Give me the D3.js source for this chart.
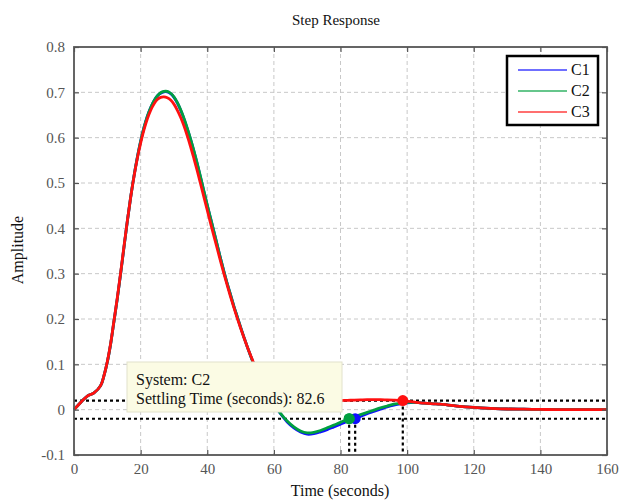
<!DOCTYPE html>
<html>
<head>
<meta charset="utf-8">
<script src="https://cdn.jsdelivr.net/npm/d3@7"></script>
<style>
  body { margin: 0; background: #fff; }
  svg { display: block; }
  text { font-family: "Liberation Serif", "DejaVu Serif", serif; }
</style>
</head>
<body>
<svg id="chart" width="620" height="502"></svg>
<script>
// ---------------- data ----------------
const seriesNames = ["C1", "C2", "C3"];
const seriesColors = ["#1010ff", "#00a040", "#ff1010"];

const time = [0,2,4,6,8,9,10,11,12,13,14,15,16,17,18,19,20,21,22,23,24,25,26,27,28,29,30,31,32,33,34,35,36,37,38,39,40,41,42,43,44,45,46,47,48,49,50,51,52,53,54,55,56,57,58,59,60,62,64,66,68,70,72,74,76,78,80,82,84,86,88,90,92,94,96,98,100,102,104,106,108,110,115,120,125,130,135,140,145,150,155,160];

const c1 = [0,0.016,0.030,0.037,0.053,0.075,0.105,0.145,0.195,0.245,0.300,0.358,0.415,0.468,0.515,0.556,0.592,0.622,0.647,0.666,0.681,0.692,0.698,0.701,0.701,0.697,0.689,0.677,0.661,0.642,0.620,0.596,0.570,0.542,0.512,0.481,0.451,0.422,0.393,0.363,0.333,0.305,0.278,0.253,0.228,0.205,0.182,0.160,0.139,0.119,0.100,0.083,0.067,0.052,0.038,0.025,0.013,-0.009,-0.027,-0.040,-0.049,-0.054,-0.053,-0.049,-0.044,-0.038,-0.032,-0.026,-0.021,-0.015,-0.009,-0.004,0.001,0.006,0.010,0.013,0.015,0.016,0.015,0.014,0.013,0.012,0.008,0.005,0.003,0.0015,0.001,0.0005,0,0,0,0];

const c2 = [0,0.016,0.030,0.037,0.053,0.075,0.105,0.145,0.195,0.245,0.300,0.358,0.415,0.468,0.515,0.556,0.592,0.622,0.647,0.666,0.681,0.692,0.699,0.702,0.702,0.698,0.690,0.678,0.662,0.643,0.621,0.597,0.571,0.543,0.513,0.482,0.452,0.422,0.393,0.363,0.333,0.305,0.278,0.253,0.228,0.205,0.182,0.160,0.139,0.119,0.100,0.083,0.067,0.052,0.038,0.025,0.013,-0.008,-0.025,-0.038,-0.047,-0.051,-0.050,-0.046,-0.040,-0.034,-0.028,-0.021,-0.016,-0.011,-0.006,-0.001,0.004,0.008,0.012,0.014,0.016,0.016,0.015,0.014,0.013,0.012,0.008,0.005,0.003,0.0015,0.001,0.0005,0,0,0,0];

const c3 = [0,0.016,0.030,0.037,0.053,0.075,0.106,0.146,0.196,0.247,0.302,0.360,0.416,0.468,0.514,0.554,0.588,0.617,0.641,0.660,0.674,0.684,0.689,0.690,0.688,0.683,0.674,0.661,0.645,0.626,0.604,0.580,0.554,0.527,0.498,0.469,0.440,0.411,0.383,0.355,0.327,0.300,0.274,0.249,0.225,0.202,0.180,0.159,0.139,0.120,0.102,0.085,0.069,0.055,0.043,0.033,0.026,0.014,0.006,0.002,0.002,0.004,0.007,0.011,0.015,0.018,0.020,0.0205,0.021,0.0215,0.022,0.022,0.022,0.0215,0.021,0.0203,0.019,0.017,0.015,0.014,0.013,0.012,0.008,0.005,0.003,0.0015,0.001,0.0005,0,0,0,0];

const seriesValues = [c1, c2, c3];

// settling-time markers
const settleTimes = [84.4, 82.6, 98.7];
const settleValues = [-0.02, -0.02, 0.02];
const bandLevels = [0.02, -0.02];

const xTicks = [0,20,40,60,80,100,120,140,160];
const yTicks = [-0.1,0,0.1,0.2,0.3,0.4,0.5,0.6,0.7,0.8];
const yTickLabels = ["-0.1","0","0.1","0.2","0.3","0.4","0.5","0.6","0.7","0.8"];

const titleText = "Step Response";
const xLabelText = "Time (seconds)";
const yLabelText = "Amplitude";
const tipLines = ["System: C2", "Settling Time (seconds): 82.6"];

// ---------------- layout ----------------
const L = 74, R = 607, T = 47, B = 455;
const svg = d3.select("#chart");
const x = d3.scaleLinear().domain([0, 160]).range([L, R]);
const y = d3.scaleLinear().domain([-0.1, 0.8]).range([B, T]);

// grid
const grid = svg.append("g").attr("stroke", "#c8c8c8").attr("stroke-width", 1)
  .attr("stroke-dasharray", "4,3");
xTicks.slice(1, -1).forEach(v => {
  grid.append("line").attr("x1", x(v)).attr("x2", x(v)).attr("y1", T).attr("y2", B);
});
yTicks.slice(1, -1).forEach(v => {
  grid.append("line").attr("x1", L).attr("x2", R).attr("y1", y(v)).attr("y2", y(v));
});

// settling band lines
const dots = svg.append("g").attr("stroke", "#000").attr("stroke-width", 2.2)
  .attr("stroke-dasharray", "3,3").attr("fill", "none");
bandLevels.forEach(v => {
  dots.append("line").attr("x1", x(0)).attr("x2", x(160)).attr("y1", y(v)).attr("y2", y(v));
});
settleTimes.forEach((t, i) => {
  dots.append("line").attr("x1", x(t)).attr("x2", x(t)).attr("y1", y(settleValues[i])).attr("y2", B);
});

// curves
const line = d3.line().x(d => x(d[0])).y(d => y(d[1])).curve(d3.curveCatmullRom.alpha(0.5));
seriesValues.forEach((vals, i) => {
  svg.append("path")
    .datum(time.map((t, j) => [t, vals[j]]))
    .attr("fill", "none")
    .attr("stroke", seriesColors[i])
    .attr("stroke-width", 2.8)
    .attr("stroke-linejoin", "round")
    .attr("d", line);
});

// markers
settleTimes.forEach((t, i) => {
  svg.append("circle").attr("cx", x(t)).attr("cy", y(settleValues[i])).attr("r", 5.5)
    .attr("fill", seriesColors[i]);
});
svg.append("circle").attr("cx", x(settleTimes[1])).attr("cy", y(settleValues[1])).attr("r", 5.5)
  .attr("fill", seriesColors[1]);

// data tip
const tip = svg.append("g");
tip.append("rect").attr("x", 127).attr("y", 362).attr("width", 215).attr("height", 50)
  .attr("fill", "#fbfbe4").attr("stroke", "#e2e2cc").attr("stroke-width", 1);
tipLines.forEach((s, i) => {
  tip.append("text").attr("x", 136).attr("y", 385 + i * 19).attr("font-size", 16)
    .attr("fill", "#111").text(s);
});

// axes (ticks inward)
function styleAxis(g) {
  g.select(".domain").remove();
  g.selectAll(".tick line").attr("stroke", "#555").attr("stroke-width", 1.2);
  g.selectAll(".tick text").attr("fill", "#555").attr("font-size", 15)
    .attr("font-family", "Liberation Serif, serif");
}
svg.append("g").attr("transform", `translate(0,${B})`)
  .call(d3.axisBottom(x).tickValues(xTicks).tickSize(-5).tickSizeOuter(0).tickPadding(8).tickFormat(d3.format("d")))
  .call(styleAxis);
svg.append("g").attr("transform", `translate(0,${T})`)
  .call(d3.axisTop(x).tickValues(xTicks).tickSize(-5).tickSizeOuter(0).tickFormat(""))
  .call(styleAxis);
svg.append("g").attr("transform", `translate(${L},0)`)
  .call(d3.axisLeft(y).tickValues(yTicks).tickSize(-5).tickSizeOuter(0).tickPadding(9)
    .tickFormat((d, i) => yTickLabels[i]))
  .call(styleAxis);
svg.append("g").attr("transform", `translate(${R},0)`)
  .call(d3.axisRight(y).tickValues(yTicks).tickSize(-5).tickSizeOuter(0).tickFormat(""))
  .call(styleAxis);

// frame
svg.append("rect").attr("x", L).attr("y", T).attr("width", R - L).attr("height", B - T)
  .attr("fill", "none").attr("stroke", "#555").attr("stroke-width", 1.8);

// legend
const lg = svg.append("g");
lg.append("rect").attr("x", 507).attr("y", 56).attr("width", 91).attr("height", 69)
  .attr("fill", "#fff").attr("stroke", "#000").attr("stroke-width", 2.5);
seriesNames.forEach((n, i) => {
  const yy = 70 + i * 21;
  lg.append("line").attr("x1", 518).attr("x2", 567).attr("y1", yy).attr("y2", yy)
    .attr("stroke", seriesColors[i]).attr("stroke-width", 1.6).attr("opacity", 0.8);
  lg.append("text").attr("x", 571).attr("y", yy + 5).attr("font-size", 16).attr("fill", "#111").text(n);
});

// titles
svg.append("text").attr("x", 336).attr("y", 25).attr("text-anchor", "middle")
  .attr("font-size", 15).attr("fill", "#111").text(titleText);
svg.append("text").attr("x", 340).attr("y", 496).attr("text-anchor", "middle")
  .attr("font-size", 16).attr("fill", "#111").text(xLabelText);
svg.append("text").attr("transform", "translate(23,250) rotate(-90)").attr("text-anchor", "middle")
  .attr("font-size", 16).attr("fill", "#111").text(yLabelText);
</script>
</body>
</html>
